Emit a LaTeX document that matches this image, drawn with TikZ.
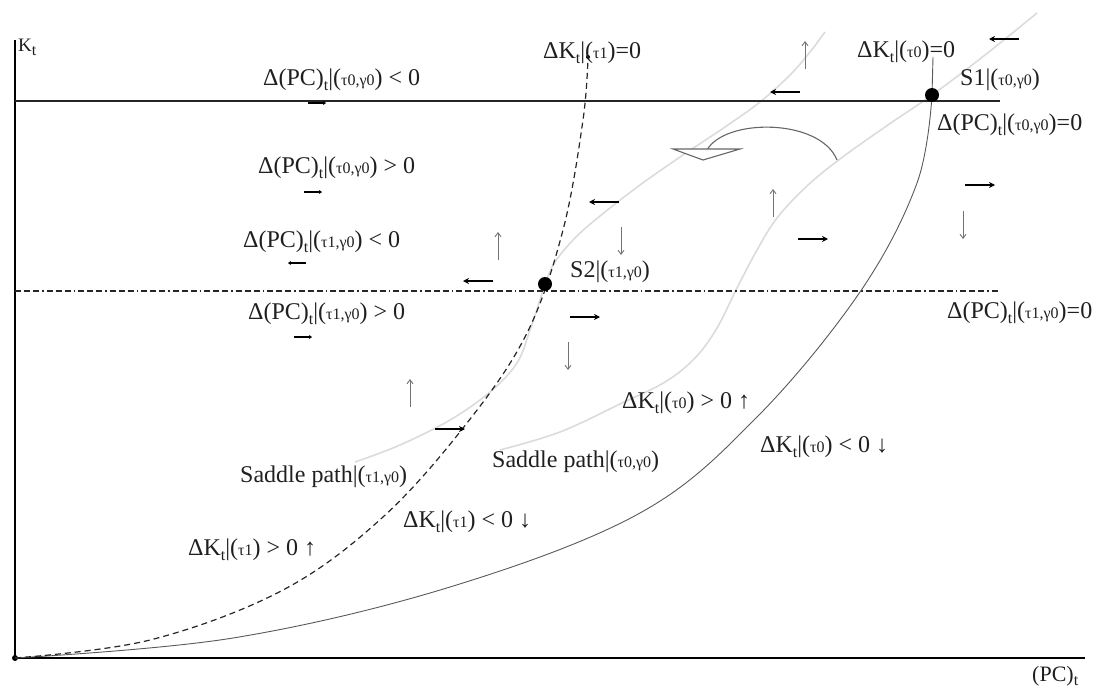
\documentclass[tikz,border=0pt]{standalone}
\usepackage{fontspec}
\setmainfont{Liberation Serif}
\usetikzlibrary{arrows.meta}
\newcommand\sm[1]{{\fontsize{16}{16}\selectfont #1}}
\newcommand\lo[1]{\raisebox{-0.45ex}{\sm{#1}}}
\newcommand\DPC{Δ(PC)\lo{t}}
\newcommand\DKt{ΔK\lo{t}}
\tikzset{
  lbl/.style={anchor=west, inner sep=0pt, text=black!88},
  axisline/.style={line width=1.3pt, black},
  kline/.style={line width=1.7pt, black!85},
  pcline/.style={line width=1.3pt, black!85, dash pattern=on 6pt off 3pt on 6pt off 3pt on 6pt off 3pt on 1.5pt off 3pt},
  solidc/.style={line width=0.9pt, black!65},
  dashc/.style={line width=1.2pt, black!85, dash pattern=on 6pt off 4pt},
  saddle/.style={line width=1.6pt, black!14},
  harr/.style={line width=1.8pt, black, -{Stealth[length=6pt,width=6pt]}},
  sarr/.style={line width=1.8pt, black, -{Stealth[length=3pt,width=4pt]}},
  varr/.style={line width=0.9pt, black!55, -{Straight Barb[length=4pt,width=6pt]}},
  rarr/.pic={\draw[harr] (-15,0) -- (15,0);},
  larr/.pic={\draw[harr] (15,0) -- (-15,0);},
  rsm/.pic={\draw[sarr] (-9,0) -- (9,0);},
  lsm/.pic={\draw[sarr] (9,0) -- (-9,0);},
  uarr/.pic={\draw[varr] (0,14) -- (0,-14);},
  darr/.pic={\draw[varr] (0,-14) -- (0,14);},
}
\begin{document}
\begin{tikzpicture}[x=1pt, y=-1pt, font=\fontsize{24}{26}\selectfont]
\useasboundingbox (0,0) rectangle (1106,694);
% named points
\coordinate (O) at (15,658);
\coordinate (Ytop) at (15,40);
\coordinate (Xend) at (1085,658);
\coordinate (KL) at (15,101);
\coordinate (KR) at (1000,101);
\coordinate (PL) at (15,291);
\coordinate (PR) at (1000,291);
\coordinate (S1) at (932,95);
\coordinate (S2) at (545,284);
\coordinate (S1top) at (933,57);
\coordinate (DKtop) at (588,57);
% saddle paths (light)
\draw[saddle] plot[smooth, tension=0.6] coordinates {(355,462) (400,445) (450,420) (490,392) (517,363) (530,330) (540,300) (545,284) (555,262) (575,238) (600,216) (640,185) (683,155) (725,127) (760,102) (790,75) (810,52) (825,32)};
\draw[saddle] plot[smooth, tension=0.6] coordinates {(500,450) (560,432) (620,404) (665,382) (695,358) (717,328) (737,288) (757,250) (777,218) (807,186) (840,159) (885,127) (932,95) (985,55) (1037,13)};
% axes
\draw[axisline] (Ytop) -- (O) -- (Xend);
\fill (O) circle (3);
% K line and PC line
\draw[kline] (KL) -- (KR);
\draw[pcline] (PL) -- (PR);
% Delta K curves
\draw[solidc] plot[smooth, tension=0.6] coordinates {(15,658) (233,638) (450,587) (640,513) (757,417) (860,292) (917,183) (932,95)};
\draw[solidc] (S1) -- (S1top);
\draw[dashc] plot[smooth, tension=0.6] coordinates {(15,658) (150,640) (283,590) (383,517) (467,423) (527,333) (563,230) (583,120) (588,57)};
\fill (DKtop) circle (2);
% equilibria
\fill (S1) circle (7);
\fill (S2) circle (7);
% curved arrow with open head
\draw[line width=1.1pt, black!60] (837,160) .. controls (820,118) and (725,118) .. (707,150);
\draw[line width=1.1pt, black!60, fill=white] (673,149) -- (740,149) -- (703,160) -- cycle;
% labels
\node[lbl, font=\fontsize{19}{20}\selectfont] (kt) at (18,47) {K\lo{t}};
\node[lbl, font=\fontsize{22}{24}\selectfont] (pcx) at (1032,676) {(PC)\lo{t}};
\node[lbl] (l1) at (263,80) {\DPC|(\sm{τ0,γ0}) < 0};
\node[lbl] (l2) at (258,168) {\DPC|(\sm{τ0,γ0}) > 0};
\node[lbl] (l3) at (243,242) {\DPC|(\sm{τ1,γ0}) < 0};
\node[lbl] (l4) at (248,314) {\DPC|(\sm{τ1,γ0}) > 0};
\node[lbl] (k1z) at (543,53) {\DKt|(\sm{τ1})=0};
\node[lbl] (k0z) at (857,52) {\DKt|(\sm{τ0})=0};
\node[lbl] (s1l) at (960,80) {S1|(\sm{τ0,γ0})};
\node[lbl] (p0z) at (937,125) {\DPC|(\sm{τ0,γ0})=0};
\node[lbl] (s2l) at (570,272) {S2|(\sm{τ1,γ0})};
\node[lbl] (p1z) at (947,313) {\DPC|(\sm{τ1,γ0})=0};
\node[lbl] (k0p) at (622,403) {\DKt|(\sm{τ0}) > 0 ↑};
\node[lbl] (k0m) at (760,447) {\DKt|(\sm{τ0}) < 0 ↓};
\node[lbl] (sp1) at (240,477) {Saddle path|(\sm{τ1,γ0})};
\node[lbl] (sp0) at (492,462) {Saddle path|(\sm{τ0,γ0})};
\node[lbl] (k1m) at (403,522) {\DKt|(\sm{τ1}) < 0 ↓};
\node[lbl] (k1p) at (188,550) {\DKt|(\sm{τ1}) > 0 ↑};
% direction arrows
\pic at (317,103) {rsm};
\pic at (313,192) {rsm};
\pic at (297,263) {lsm};
\pic at (303,337) {rsm};
\pic at (478,281) {larr};
\pic at (604,202) {larr};
\pic at (585,317) {rarr};
\pic at (450,429) {rarr};
\pic at (785,92) {larr};
\pic at (813,239) {rarr};
\pic at (980,185) {rarr};
\pic at (1004,39) {larr};
\pic at (498,246) {uarr};
\pic at (621,241) {darr};
\pic at (568,356) {darr};
\pic at (410,393) {uarr};
\pic at (805,55) {uarr};
\pic at (773,203) {uarr};
\pic at (963,225) {darr};
\end{tikzpicture}
\end{document}
